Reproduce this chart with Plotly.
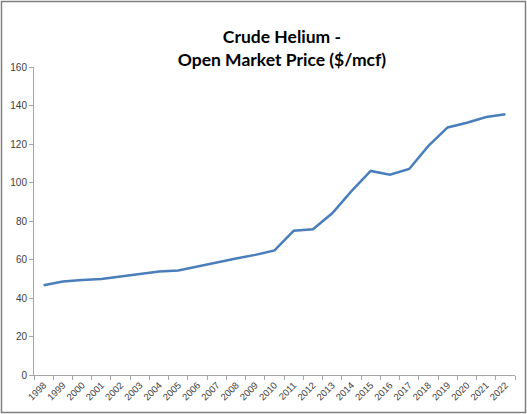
import plotly.graph_objects as go

# Crude helium open market price, $/mcf
years = [str(y) for y in range(1998, 2023)]
price = [46.6, 48.6, 49.3, 49.9, 51.2, 52.4, 53.8, 54.3, 56.4, 58.7,
         60.5, 62.4, 64.7, 75.0, 75.7, 84.0, 95.5, 106.0, 104.0, 107.0,
         119.0, 128.6, 131.0, 134.0, 135.4]
y_ticks = [0, 20, 40, 60, 80, 100, 120, 140, 160]

W, H = 527, 414
ml, mr, mt, mb = 34, 12, 67, 39
pw, ph = W - ml - mr, H - mt - mb

fig = go.Figure(go.Scatter(
    x=years, y=price, mode="lines",
    line=dict(color="#4A7EBB", width=2.5),
))

fig.update_layout(
    width=W, height=H,
    margin=dict(l=ml, r=mr, t=mt, b=mb, autoexpand=False),
    paper_bgcolor="white", plot_bgcolor="white",
    showlegend=False,
    title=dict(
        text="<b>Crude Helium -<br>Open Market Price ($/mcf)</b>",
        x=0.535, xanchor="center", y=0.896, yanchor="top",
        font=dict(family="Lato, Open Sans, sans-serif", size=17.5, color="black"),
    ),
    font=dict(family="Liberation Sans, Arial, sans-serif", size=10, color="#404040"),
)

fig.update_xaxes(
    type="category", tickangle=-45, tickson="boundaries",
    range=[-0.5, len(years) - 0.5],
    ticks="outside", ticklen=4, tickcolor="#A6A6A6",
    showline=True, linecolor="#A6A6A6", linewidth=1,
    showgrid=False, zeroline=False, automargin=False,
    tickfont=dict(size=9.5),
)
fig.update_yaxes(
    range=[0, 160], tickvals=y_ticks,
    ticks="outside", ticklen=4, tickcolor="#A6A6A6",
    showline=True, linecolor="#A6A6A6", linewidth=1,
    showgrid=False, zeroline=False, automargin=False,
    tickfont=dict(size=10),
)

# outer chart border
fig.add_shape(
    type="rect", xref="paper", yref="paper",
    x0=-(ml - 1.5) / pw, x1=1 + (mr - 1.5) / pw,
    y0=-(mb - 1.5) / ph, y1=1 + (mt - 1.5) / ph,
    line=dict(color="#7F7F7F", width=1.5),
)

fig.write_html("out.html", config={"displayModeBar": False},
               post_script="document.body.style.margin='0px';")
